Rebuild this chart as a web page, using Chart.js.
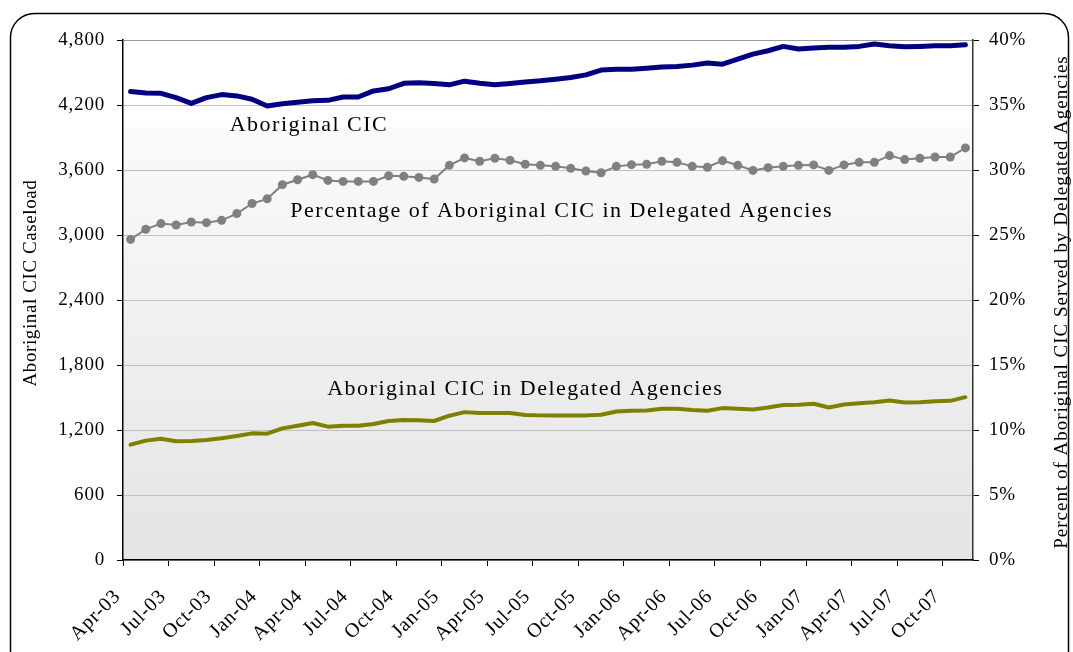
<!DOCTYPE html>
<html><head><meta charset="utf-8">
<script src="https://cdn.jsdelivr.net/npm/chart.js@4"></script>
<style>html,body{margin:0;padding:0;background:#fff;}canvas{display:block;}</style>
</head><body>
<canvas id="c" width="1073" height="652"></canvas>
<script>
const months = ['Apr-03','May-03','Jun-03','Jul-03','Aug-03','Sep-03','Oct-03','Nov-03','Dec-03',
'Jan-04','Feb-04','Mar-04','Apr-04','May-04','Jun-04','Jul-04','Aug-04','Sep-04','Oct-04','Nov-04','Dec-04',
'Jan-05','Feb-05','Mar-05','Apr-05','May-05','Jun-05','Jul-05','Aug-05','Sep-05','Oct-05','Nov-05','Dec-05',
'Jan-06','Feb-06','Mar-06','Apr-06','May-06','Jun-06','Jul-06','Aug-06','Sep-06','Oct-06','Nov-06','Dec-06',
'Jan-07','Feb-07','Mar-07','Apr-07','May-07','Jun-07','Jul-07','Aug-07','Sep-07','Oct-07','Nov-07'];

const aboriginalCIC = [4324,4311,4308,4268,4215,4268,4296,4284,4253,4191,4212,4225,4240,4243,4274,4274,4330,4350,4400,4405,
4398,4386,4420,4401,4386,4398,4413,4423,4438,4454,4478,4522,4531,4531,4540,4550,4555,4568,4587,4577,
4624,4670,4701,4741,4717,4726,4732,4732,4741,4763,4747,4738,4741,4747,4747,4757];

const delegatedCIC = [1065,1102,1120,1096,1099,1108,1123,1145,1169,1166,1215,1240,1264,1231,1240,1240,1255,1283,1292,1289,
1283,1332,1365,1356,1356,1356,1338,1335,1335,1335,1335,1341,1371,1378,1381,1396,1396,1384,1378,1402,
1396,1390,1408,1430,1433,1442,1408,1436,1448,1457,1472,1454,1457,1466,1469,1503];

const pctDelegated = [24.66,25.44,25.88,25.77,26.0,25.95,26.13,26.65,27.42,27.78,28.87,29.25,29.64,29.2,29.12,29.12,29.12,29.56,29.51,29.43,
29.3,30.36,30.93,30.67,30.9,30.75,30.44,30.36,30.28,30.13,29.92,29.79,30.28,30.41,30.44,30.67,30.59,30.28,30.21,30.72,
30.36,29.97,30.18,30.28,30.36,30.39,29.97,30.39,30.59,30.59,31.11,30.8,30.9,31.0,31.0,31.7];

const seriesNames = ['Aboriginal CIC','Percentage of Aboriginal CIC in Delegated Agencies','Aboriginal CIC in Delegated Agencies'];
const leftAxisTitle = 'Aboriginal CIC Caseload';
const rightAxisTitle = 'Percent of Aboriginal CIC Served by Delegated Agencies';

const SERIF = "'Liberation Serif','Times New Roman',serif";

const bgPlugin = {
  id:'bg',
  beforeUpdate(chart){ chart.ctx.letterSpacing = '0.8px'; },
  beforeDraw(chart){
    const ctx = chart.ctx;
    ctx.letterSpacing = '0.8px';
    ctx.save();
    ctx.fillStyle = '#fff';
    ctx.fillRect(0,0,chart.width,chart.height);
    const a = chart.chartArea;
    const g = ctx.createLinearGradient(0,a.top,0,a.bottom);
    g.addColorStop(0,'#ffffff');
    g.addColorStop(0.165,'#ffffff');
    g.addColorStop(0.17,'#fafafa');
    g.addColorStop(1,'#e4e4e4');
    ctx.fillStyle = g;
    ctx.fillRect(a.left,a.top,a.right-a.left,a.bottom-a.top);
    ctx.strokeStyle = '#000';
    ctx.lineWidth = 1.5;
    ctx.beginPath();
    ctx.roundRect(10.5,13.5,1058,670,24);
    ctx.stroke();
    ctx.restore();
  }
};

const labelPlugin = {
  id:'seriesLabels',
  afterDatasetsDraw(chart){
    const ctx = chart.ctx, x = chart.scales.x, y = chart.scales.y;
    const anchors = [[11.75,3960],[28.4,3163],[26.0,1523]];
    ctx.save();
    ctx.letterSpacing = '1.5px';
    ctx.font = "22px " + SERIF;
    ctx.fillStyle = '#000';
    ctx.textAlign = 'center';
    ctx.textBaseline = 'alphabetic';
    seriesNames.forEach((t,i)=>{
      ctx.fillText(t, x.getPixelForValue(anchors[i][0]), y.getPixelForValue(anchors[i][1]));
    });
    ctx.restore();
  },
  afterDraw(chart){
    const ctx = chart.ctx;
    ctx.save();
    ctx.fillStyle = '#000';
    ctx.font = "19px " + SERIF;
    ctx.textAlign = 'center';
    ctx.textBaseline = 'alphabetic';
    ctx.letterSpacing = '0.6px';
    ctx.translate(36, 283);
    ctx.rotate(-Math.PI/2);
    ctx.fillText(leftAxisTitle, 0, 0);
    ctx.restore();
    ctx.save();
    ctx.fillStyle = '#000';
    ctx.font = "19px " + SERIF;
    ctx.textAlign = 'center';
    ctx.textBaseline = 'alphabetic';
    ctx.letterSpacing = '1px';
    ctx.translate(1067, 302);
    ctx.rotate(-Math.PI/2);
    ctx.fillText(rightAxisTitle, 0, 0);
    ctx.restore();
  }
};

new Chart(document.getElementById('c'), {
  type:'line',
  data:{
    labels: months,
    datasets:[
      {label:seriesNames[0], data:aboriginalCIC, yAxisID:'y', borderColor:'#000080', borderWidth:5, pointRadius:0, tension:0, fill:false, borderJoinStyle:'round', borderCapStyle:'round'},
      {label:seriesNames[1], data:pctDelegated, yAxisID:'y2', borderColor:'#808080', backgroundColor:'#808080', borderWidth:2, pointRadius:4.5, pointBorderWidth:0, pointBackgroundColor:'#808080', tension:0, fill:false},
      {label:seriesNames[2], data:delegatedCIC, yAxisID:'y', borderColor:'#808000', borderWidth:4, pointRadius:0, tension:0, fill:false, borderJoinStyle:'round', borderCapStyle:'round'}
    ]
  },
  options:{
    responsive:false, animation:false, devicePixelRatio:1,
    layout:{padding:{top:40,left:0,right:0,bottom:0}},
    plugins:{legend:{display:false}, tooltip:{enabled:false}, title:{display:false}},
    scales:{
      x:{
        type:'category', offset:true,
        grid:{offset:true, drawOnChartArea:false, tickLength:6, tickWidth:1,
          tickColor:(c)=> (c.index % 3 === 0 ? '#000' : 'rgba(0,0,0,0)')},
        border:{color:'#000', width:1.5},
        ticks:{autoSkip:false, maxRotation:45, minRotation:45, padding:19, labelOffset:-13, color:'#000',
          font:{family:SERIF, size:20},
          callback:(v,i)=> (i % 3 === 0 ? months[i] : '')},
        afterFit:(s)=>{ s.height = 92; }
      },
      y:{
        position:'left', min:0, max:4800,
        ticks:{stepSize:600, padding:12, color:'#000', font:{family:SERIF, size:19},
          callback:(v)=> Number(v).toLocaleString('en-US')},
        grid:{color:(c)=> (c.tick && c.tick.value === 4800 ? '#9a9a9a' : '#c0c0c0'), lineWidth:1, tickLength:6, tickColor:'#000'},
        border:{color:'#000', width:1.5},
        title:{display:false},
        afterFit:(s)=>{ s.width = 123; }
      },
      y2:{
        position:'right', min:0, max:40,
        ticks:{stepSize:5, padding:10, color:'#000', font:{family:SERIF, size:19},
          callback:(v)=> v + '%'},
        grid:{drawOnChartArea:false, tickLength:6, tickColor:'#000'},
        border:{color:'#333', width:1.5},
        title:{display:false},
        afterFit:(s)=>{ s.width = 100; }
      }
    }
  },
  plugins:[bgPlugin, labelPlugin]
});
</script>
</body></html>
